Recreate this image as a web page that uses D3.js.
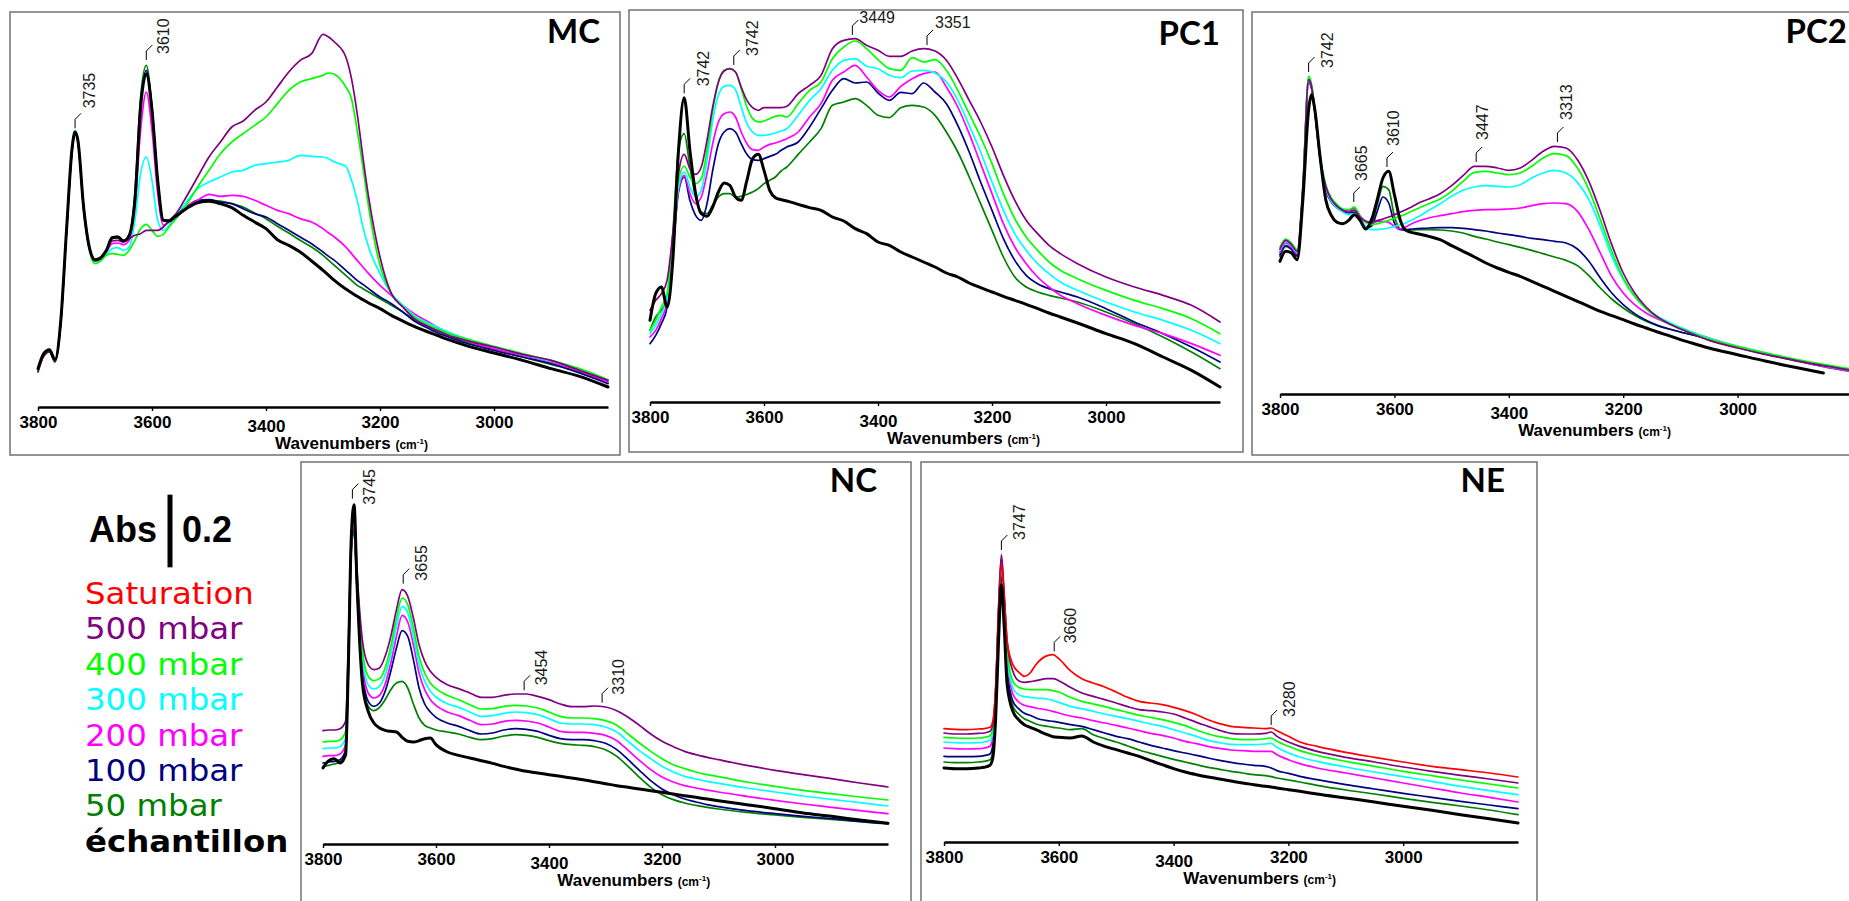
<!DOCTYPE html>
<html><head><meta charset="utf-8">
<script src="https://cdn.jsdelivr.net/npm/d3@7/dist/d3.min.js"></script>
<style>html,body{margin:0;padding:0;background:#fff;}svg{display:block;}</style>
</head><body>
<svg id="chart" width="1849" height="901"></svg>
<script>
// ---------------- DATA ----------------
const seriesNames = ["Saturation","500 mbar","400 mbar","300 mbar","200 mbar","100 mbar","50 mbar","échantillon"];
const xTickValues = [3800,3600,3400,3200,3000];
const scaleBarAbs = 0.2;

// MC
const mcWavenumbers = [3800,3790,3780,3770,3760,3750,3740,3735,3730,3720,3710,3700,3690,3680,3670,3660,3650,3640,3630,3620,3610,3600,3590,3580,3570,3560,3540,3520,3500,3480,3460,3440,3420,3400,3380,3360,3340,3320,3300,3290,3280,3260,3250,3240,3230,3220,3200,3180,3160,3140,3120,3100,3080,3050,3000,2950,2900,2850,2800];
const mc500 = [0.105,0.152,0.165,0.135,0.252,0.522,0.772,0.820,0.796,0.596,0.476,0.438,0.445,0.470,0.498,0.500,0.495,0.505,0.515,0.520,0.530,0.530,0.530,0.540,0.560,0.575,0.630,0.690,0.750,0.795,0.840,0.858,0.890,0.915,0.960,1.005,1.040,1.060,1.118,1.110,1.095,1.050,0.985,0.880,0.750,0.630,0.450,0.340,0.300,0.265,0.245,0.230,0.215,0.200,0.180,0.158,0.140,0.110,0.080];
const mc400 = [0.106,0.153,0.165,0.135,0.253,0.523,0.773,0.822,0.795,0.592,0.470,0.430,0.438,0.455,0.460,0.458,0.455,0.470,0.500,0.535,0.548,0.530,0.512,0.518,0.540,0.560,0.605,0.660,0.710,0.760,0.795,0.820,0.845,0.870,0.910,0.950,0.975,0.985,0.995,1.002,0.998,0.960,0.925,0.830,0.720,0.600,0.425,0.340,0.300,0.270,0.250,0.235,0.220,0.205,0.182,0.160,0.140,0.115,0.082];
const mc300 = [0.108,0.155,0.167,0.137,0.255,0.525,0.775,0.830,0.800,0.598,0.476,0.436,0.443,0.458,0.475,0.478,0.470,0.480,0.560,0.700,0.750,0.680,0.560,0.530,0.545,0.570,0.615,0.655,0.675,0.690,0.705,0.710,0.725,0.730,0.735,0.740,0.755,0.752,0.750,0.745,0.735,0.722,0.680,0.620,0.540,0.480,0.400,0.340,0.305,0.275,0.255,0.240,0.225,0.205,0.180,0.158,0.138,0.112,0.080];
const mc200 = [0.110,0.157,0.169,0.139,0.257,0.527,0.777,0.825,0.800,0.600,0.478,0.440,0.447,0.465,0.490,0.492,0.487,0.500,0.600,0.830,0.945,0.830,0.640,0.545,0.555,0.570,0.600,0.620,0.638,0.632,0.635,0.632,0.620,0.605,0.590,0.580,0.565,0.555,0.535,0.522,0.510,0.480,0.460,0.440,0.420,0.400,0.365,0.335,0.305,0.280,0.260,0.240,0.222,0.200,0.175,0.155,0.135,0.108,0.075];
const mc100 = [0.112,0.158,0.170,0.140,0.258,0.528,0.778,0.825,0.800,0.600,0.478,0.440,0.447,0.470,0.505,0.508,0.497,0.515,0.630,0.910,1.010,0.895,0.680,0.560,0.560,0.575,0.600,0.620,0.622,0.615,0.610,0.595,0.580,0.570,0.550,0.530,0.510,0.490,0.465,0.452,0.440,0.410,0.395,0.380,0.368,0.355,0.330,0.310,0.285,0.258,0.240,0.223,0.210,0.192,0.170,0.150,0.130,0.102,0.070];
const mc50 = [0.110,0.158,0.170,0.140,0.258,0.528,0.778,0.825,0.800,0.600,0.478,0.438,0.445,0.470,0.510,0.512,0.500,0.515,0.640,0.930,1.025,0.900,0.680,0.560,0.560,0.572,0.597,0.615,0.620,0.618,0.610,0.600,0.582,0.565,0.542,0.522,0.500,0.480,0.455,0.440,0.425,0.395,0.380,0.365,0.355,0.345,0.325,0.305,0.285,0.262,0.245,0.228,0.213,0.195,0.172,0.150,0.128,0.105,0.072];
const mcSample = [0.115,0.160,0.172,0.142,0.260,0.530,0.780,0.825,0.800,0.600,0.480,0.442,0.448,0.470,0.508,0.510,0.498,0.515,0.620,0.900,1.000,0.890,0.680,0.560,0.558,0.570,0.595,0.613,0.617,0.610,0.598,0.575,0.555,0.535,0.502,0.485,0.465,0.438,0.410,0.395,0.380,0.354,0.343,0.332,0.322,0.312,0.295,0.275,0.258,0.242,0.228,0.215,0.202,0.185,0.162,0.140,0.115,0.092,0.060];
const mcPeakLabels = ["3735","3610"];
const mcPeakWavenumbers = [3735,3610];
const mcPeakAbs = [0.83,1.035];

// PC1
const pc1Wavenumbers = [3800,3790,3780,3770,3760,3750,3740,3730,3720,3710,3700,3690,3680,3670,3660,3650,3640,3630,3620,3610,3600,3590,3580,3570,3560,3540,3520,3500,3480,3460,3440,3420,3400,3380,3360,3340,3320,3300,3280,3260,3240,3220,3200,3180,3160,3140,3120,3100,3080,3050,3000,2950,2900,2850,2800];
const pc1500 = [0.275,0.305,0.325,0.365,0.505,0.685,0.743,0.700,0.683,0.705,0.785,0.885,0.960,0.993,1.000,0.990,0.945,0.905,0.883,0.875,0.883,0.883,0.883,0.883,0.887,0.925,0.950,0.980,1.060,1.085,1.090,1.070,1.055,1.037,1.037,1.053,1.060,1.053,1.025,0.970,0.905,0.840,0.765,0.680,0.605,0.545,0.505,0.470,0.445,0.415,0.375,0.345,0.320,0.290,0.240];
const pc1400 = [0.215,0.245,0.285,0.325,0.485,0.665,0.708,0.675,0.655,0.670,0.755,0.875,0.960,0.995,1.000,0.990,0.940,0.885,0.850,0.840,0.843,0.850,0.857,0.860,0.855,0.895,0.935,0.960,1.030,1.065,1.083,1.060,1.027,1.000,0.995,1.033,1.020,1.027,0.995,0.935,0.865,0.795,0.715,0.625,0.550,0.495,0.455,0.420,0.395,0.370,0.335,0.305,0.280,0.250,0.205];
const pc1300 = [0.205,0.230,0.265,0.310,0.465,0.645,0.690,0.645,0.615,0.635,0.725,0.845,0.920,0.947,0.950,0.937,0.885,0.835,0.810,0.800,0.800,0.803,0.807,0.813,0.820,0.860,0.905,0.940,0.995,1.025,1.030,1.007,1.000,0.980,0.973,0.993,0.995,0.987,0.960,0.905,0.830,0.750,0.660,0.575,0.505,0.455,0.415,0.385,0.360,0.335,0.300,0.270,0.245,0.215,0.175];
const pc1200 = [0.195,0.215,0.250,0.300,0.455,0.635,0.680,0.625,0.595,0.615,0.685,0.775,0.840,0.865,0.870,0.855,0.810,0.775,0.757,0.755,0.765,0.773,0.777,0.783,0.790,0.810,0.855,0.895,0.965,0.990,1.010,0.975,0.935,0.915,0.947,0.970,0.985,0.990,0.945,0.885,0.805,0.715,0.625,0.535,0.465,0.415,0.375,0.345,0.320,0.295,0.260,0.230,0.205,0.175,0.140];
const pc1100 = [0.175,0.200,0.235,0.285,0.445,0.630,0.675,0.605,0.560,0.545,0.595,0.695,0.775,0.810,0.820,0.810,0.775,0.743,0.727,0.725,0.730,0.737,0.743,0.755,0.765,0.780,0.825,0.880,0.935,0.970,0.957,0.960,0.927,0.905,0.929,0.925,0.957,0.930,0.895,0.830,0.750,0.660,0.575,0.490,0.425,0.380,0.355,0.340,0.330,0.315,0.280,0.240,0.205,0.165,0.120];
const pc150 = [0.215,0.255,0.275,0.305,0.505,0.755,0.805,0.705,0.615,0.570,0.565,0.590,0.615,0.625,0.625,0.615,0.617,0.623,0.630,0.640,0.655,0.665,0.675,0.693,0.705,0.743,0.780,0.820,0.890,0.900,0.910,0.890,0.860,0.853,0.883,0.890,0.885,0.860,0.810,0.750,0.675,0.595,0.515,0.435,0.375,0.345,0.330,0.320,0.312,0.300,0.270,0.235,0.195,0.150,0.100];
const pc1Sample = [0.245,0.325,0.345,0.285,0.425,0.755,0.913,0.755,0.625,0.565,0.557,0.585,0.630,0.657,0.650,0.615,0.605,0.665,0.730,0.743,0.695,0.635,0.613,0.607,0.603,0.593,0.583,0.575,0.555,0.543,0.520,0.505,0.480,0.470,0.450,0.435,0.420,0.405,0.387,0.375,0.357,0.343,0.330,0.317,0.305,0.293,0.280,0.267,0.255,0.237,0.205,0.175,0.135,0.095,0.045];
const pc1PeakLabels = ["3742","3742","3449","3351"];
const pc1PeakWavenumbers = [3740,3653,3445,3314];
const pc1PeakAbs = [0.92,1.005,1.095,1.065];

// PC2
const pc2Wavenumbers = [3800,3790,3780,3770,3760,3750,3745,3740,3730,3720,3710,3700,3690,3680,3670,3660,3650,3640,3630,3620,3610,3600,3590,3580,3570,3560,3540,3520,3500,3480,3460,3440,3420,3400,3380,3360,3340,3320,3300,3280,3260,3240,3220,3200,3180,3160,3140,3120,3100,3080,3050,3000,2950,2900,2850,2800];
const pc2500 = [0.435,0.461,0.448,0.428,0.623,0.943,0.923,0.863,0.713,0.623,0.583,0.563,0.551,0.545,0.551,0.531,0.518,0.515,0.520,0.525,0.531,0.538,0.545,0.553,0.561,0.571,0.585,0.601,0.625,0.655,0.683,0.683,0.678,0.671,0.678,0.701,0.728,0.743,0.738,0.703,0.638,0.548,0.448,0.363,0.303,0.261,0.231,0.211,0.195,0.181,0.161,0.138,0.118,0.101,0.085,0.071];
const pc2400 = [0.441,0.465,0.453,0.433,0.628,0.953,0.931,0.868,0.718,0.628,0.588,0.568,0.555,0.553,0.561,0.533,0.515,0.508,0.511,0.516,0.521,0.527,0.533,0.540,0.548,0.556,0.571,0.585,0.608,0.638,0.665,0.668,0.663,0.658,0.663,0.683,0.708,0.721,0.715,0.678,0.613,0.523,0.428,0.348,0.293,0.255,0.228,0.211,0.197,0.183,0.165,0.143,0.123,0.105,0.089,0.075];
const pc2300 = [0.431,0.458,0.445,0.425,0.618,0.945,0.925,0.863,0.711,0.618,0.578,0.558,0.545,0.538,0.541,0.523,0.503,0.493,0.493,0.495,0.498,0.503,0.507,0.513,0.521,0.530,0.551,0.571,0.593,0.611,0.621,0.625,0.623,0.621,0.628,0.648,0.663,0.671,0.663,0.635,0.583,0.503,0.413,0.343,0.293,0.258,0.233,0.215,0.200,0.186,0.168,0.143,0.123,0.103,0.085,0.071];
const pc2200 = [0.425,0.453,0.441,0.421,0.613,0.938,0.921,0.861,0.708,0.615,0.578,0.561,0.551,0.549,0.551,0.533,0.518,0.515,0.518,0.518,0.515,0.503,0.495,0.501,0.511,0.518,0.528,0.535,0.541,0.547,0.551,0.553,0.553,0.555,0.558,0.565,0.571,0.573,0.571,0.548,0.493,0.423,0.353,0.303,0.268,0.243,0.225,0.211,0.198,0.185,0.168,0.141,0.121,0.101,0.083,0.068];
const pc2100 = [0.418,0.445,0.435,0.415,0.608,0.935,0.918,0.858,0.705,0.611,0.575,0.558,0.548,0.543,0.545,0.525,0.498,0.503,0.548,0.591,0.573,0.513,0.493,0.493,0.495,0.496,0.498,0.499,0.499,0.497,0.493,0.489,0.483,0.478,0.473,0.467,0.463,0.458,0.453,0.435,0.398,0.348,0.303,0.268,0.241,0.221,0.206,0.195,0.186,0.178,0.165,0.141,0.121,0.103,0.085,0.071];
const pc250 = [0.413,0.443,0.433,0.413,0.611,0.943,0.925,0.863,0.708,0.613,0.578,0.561,0.551,0.551,0.558,0.533,0.501,0.511,0.568,0.623,0.613,0.533,0.495,0.491,0.492,0.493,0.493,0.492,0.489,0.483,0.473,0.465,0.456,0.448,0.440,0.431,0.421,0.411,0.401,0.385,0.355,0.318,0.285,0.258,0.236,0.218,0.205,0.195,0.186,0.178,0.165,0.140,0.119,0.100,0.082,0.067];
const pc2Sample = [0.398,0.428,0.423,0.403,0.583,0.853,0.898,0.863,0.713,0.583,0.535,0.515,0.511,0.521,0.538,0.521,0.495,0.523,0.583,0.648,0.668,0.598,0.523,0.491,0.485,0.481,0.473,0.463,0.445,0.428,0.411,0.393,0.378,0.365,0.353,0.338,0.323,0.308,0.293,0.278,0.263,0.248,0.235,0.223,0.210,0.198,0.186,0.175,0.163,0.153,0.138,0.118,0.098,0.080,0.063,null];
const pc2PeakLabels = ["3742","3665","3610","3447","3313"];
const pc2PeakWavenumbers = [3750,3671,3613,3457,3315];
const pc2PeakAbs = [0.96,0.57,0.675,0.69,0.75];

// NC
const ncWavenumbers = [3800,3790,3780,3770,3760,3755,3750,3745,3740,3730,3720,3710,3700,3690,3680,3670,3660,3650,3640,3630,3620,3610,3600,3580,3560,3540,3520,3500,3480,3460,3440,3420,3400,3380,3360,3340,3320,3300,3280,3260,3240,3220,3200,3180,3160,3140,3120,3100,3050,3000,2950,2900,2850,2800];
const nc500 = [0.340,0.342,0.342,0.346,0.368,0.608,0.918,1.003,0.828,0.608,0.538,0.523,0.528,0.563,0.623,0.703,0.763,0.743,0.678,0.598,0.548,0.518,0.500,0.478,0.466,0.453,0.440,0.440,0.446,0.450,0.450,0.443,0.433,0.420,0.412,0.412,0.414,0.411,0.400,0.380,0.356,0.330,0.308,0.292,0.278,0.268,0.260,0.253,0.236,0.221,0.208,0.196,0.183,0.171];
const nc400 = [0.306,0.308,0.308,0.312,0.338,0.588,0.913,0.983,0.818,0.578,0.503,0.490,0.496,0.528,0.593,0.678,0.738,0.718,0.648,0.563,0.513,0.483,0.466,0.446,0.433,0.418,0.405,0.406,0.413,0.416,0.414,0.408,0.396,0.383,0.378,0.378,0.376,0.370,0.356,0.330,0.303,0.278,0.256,0.238,0.226,0.216,0.208,0.202,0.186,0.173,0.161,0.151,0.141,0.132];
const nc300 = [0.286,0.288,0.288,0.292,0.318,0.568,0.903,0.968,0.808,0.558,0.478,0.465,0.473,0.506,0.570,0.653,0.713,0.693,0.623,0.538,0.488,0.458,0.441,0.421,0.410,0.396,0.383,0.385,0.392,0.396,0.394,0.388,0.376,0.363,0.360,0.360,0.358,0.351,0.336,0.308,0.280,0.256,0.233,0.216,0.203,0.195,0.188,0.182,0.168,0.156,0.144,0.134,0.124,0.114];
const nc200 = [0.263,0.265,0.265,0.270,0.298,0.548,0.893,0.958,0.798,0.538,0.453,0.438,0.446,0.480,0.543,0.623,0.686,0.666,0.598,0.513,0.463,0.433,0.416,0.396,0.385,0.371,0.358,0.360,0.368,0.371,0.369,0.363,0.351,0.338,0.335,0.335,0.332,0.326,0.310,0.281,0.251,0.223,0.201,0.186,0.175,0.168,0.162,0.156,0.143,0.131,0.120,0.110,0.100,0.091];
const nc100 = [0.243,0.246,0.248,0.253,0.283,0.528,0.883,0.948,0.778,0.508,0.428,0.413,0.423,0.458,0.518,0.588,0.640,0.623,0.553,0.468,0.420,0.396,0.380,0.363,0.353,0.340,0.330,0.333,0.342,0.346,0.344,0.338,0.326,0.316,0.313,0.313,0.310,0.302,0.283,0.253,0.221,0.190,0.165,0.148,0.135,0.126,0.118,0.112,0.100,0.091,0.083,0.076,0.068,0.062];
const nc50 = [0.233,0.236,0.240,0.246,0.278,0.518,0.878,0.933,0.768,0.488,0.413,0.400,0.410,0.433,0.463,0.483,0.488,0.468,0.420,0.378,0.356,0.348,0.342,0.336,0.330,0.320,0.313,0.316,0.324,0.328,0.326,0.320,0.310,0.302,0.298,0.296,0.292,0.283,0.263,0.233,0.200,0.170,0.148,0.133,0.123,0.116,0.110,0.105,0.095,0.087,0.080,0.074,0.067,0.060];
const ncSample = [0.228,0.250,0.256,0.243,0.268,0.548,0.918,1.018,0.788,0.478,0.398,0.363,0.348,0.341,0.338,0.336,0.320,0.308,0.306,0.310,0.316,0.318,0.298,0.276,0.266,0.258,0.250,0.242,0.233,0.225,0.218,0.213,0.208,0.203,0.198,0.193,0.187,0.181,0.175,0.170,0.165,0.160,0.155,0.150,0.145,0.140,0.135,0.130,0.118,0.106,0.093,0.083,0.072,0.062];
const ncPeakLabels = ["3745","3655","3454","3310"];
const ncPeakWavenumbers = [3748,3658,3444,3306];
const ncPeakAbs = [1.03,0.775,0.455,0.418];

// NE
const neWavenumbers = [3800,3780,3760,3740,3730,3720,3715,3710,3705,3700,3695,3690,3680,3670,3660,3650,3640,3620,3610,3600,3580,3560,3540,3520,3500,3480,3460,3440,3420,3400,3380,3360,3340,3320,3300,3280,3260,3240,3230,3220,3200,3180,3150,3100,3050,3000,2950,2900,2850,2800];
const neSat = [0.340,0.338,0.337,0.339,0.340,0.344,0.362,0.462,0.682,0.832,0.732,0.602,0.532,0.510,0.497,0.507,0.532,0.559,0.562,0.550,0.514,0.490,0.477,0.465,0.450,0.434,0.422,0.417,0.412,0.404,0.394,0.382,0.367,0.355,0.347,0.344,0.342,0.340,0.342,0.334,0.317,0.300,0.287,0.269,0.254,0.240,0.227,0.217,0.207,0.195];
const ne500 = [0.327,0.324,0.324,0.326,0.327,0.332,0.352,0.462,0.702,0.862,0.742,0.602,0.512,0.484,0.479,0.481,0.484,0.490,0.490,0.484,0.464,0.447,0.437,0.427,0.417,0.406,0.397,0.394,0.390,0.384,0.372,0.359,0.347,0.335,0.326,0.324,0.324,0.326,0.330,0.317,0.300,0.287,0.272,0.254,0.240,0.225,0.212,0.200,0.189,0.177];
const ne400 = [0.314,0.312,0.311,0.312,0.314,0.319,0.340,0.452,0.687,0.842,0.722,0.577,0.482,0.464,0.459,0.457,0.457,0.457,0.454,0.450,0.434,0.422,0.414,0.406,0.397,0.389,0.380,0.374,0.367,0.359,0.349,0.336,0.324,0.316,0.310,0.307,0.307,0.310,0.312,0.302,0.287,0.274,0.260,0.242,0.227,0.212,0.199,0.186,0.174,0.162];
const ne300 = [0.300,0.298,0.297,0.298,0.300,0.305,0.327,0.442,0.672,0.827,0.707,0.562,0.462,0.442,0.436,0.434,0.432,0.429,0.424,0.419,0.407,0.400,0.392,0.384,0.377,0.370,0.362,0.354,0.347,0.337,0.327,0.317,0.305,0.298,0.293,0.292,0.292,0.294,0.296,0.284,0.267,0.255,0.242,0.225,0.210,0.196,0.182,0.167,0.154,0.142];
const ne200 = [0.282,0.280,0.279,0.280,0.282,0.287,0.312,0.442,0.692,0.852,0.722,0.552,0.444,0.420,0.410,0.406,0.402,0.396,0.392,0.387,0.378,0.372,0.364,0.357,0.350,0.342,0.334,0.326,0.320,0.312,0.302,0.295,0.287,0.281,0.276,0.274,0.272,0.272,0.272,0.262,0.247,0.235,0.222,0.207,0.192,0.177,0.162,0.147,0.134,0.120];
const ne100 = [0.257,0.256,0.256,0.257,0.259,0.264,0.290,0.422,0.662,0.812,0.692,0.522,0.422,0.400,0.386,0.380,0.372,0.364,0.362,0.359,0.352,0.347,0.337,0.327,0.317,0.310,0.300,0.290,0.282,0.274,0.267,0.260,0.252,0.245,0.239,0.234,0.230,0.227,0.222,0.214,0.206,0.197,0.187,0.172,0.159,0.146,0.134,0.122,0.111,0.100];
const ne50 = [0.240,0.238,0.238,0.240,0.242,0.247,0.272,0.402,0.642,0.792,0.672,0.502,0.407,0.384,0.370,0.362,0.354,0.347,0.344,0.342,0.337,0.340,0.322,0.310,0.300,0.288,0.276,0.266,0.257,0.248,0.240,0.232,0.224,0.218,0.212,0.207,0.202,0.199,0.196,0.192,0.186,0.180,0.170,0.156,0.144,0.131,0.119,0.108,0.096,0.082];
const neSample = [0.222,0.220,0.220,0.222,0.224,0.230,0.252,0.372,0.602,0.772,0.642,0.472,0.392,0.367,0.352,0.344,0.337,0.322,0.316,0.314,0.312,0.318,0.300,0.287,0.277,0.267,0.257,0.244,0.232,0.220,0.210,0.202,0.195,0.189,0.183,0.177,0.172,0.167,0.165,0.162,0.157,0.152,0.144,0.132,0.120,0.107,0.095,0.082,0.070,0.057];
const nePeakLabels = ["3747","3660","3280"];
const nePeakWavenumbers = [3700,3608,3230];
const nePeakAbs = [0.87,0.566,0.345];

// ---------------- STYLE / LAYOUT ----------------
const colorOf = {"Saturation":"#ff0000","500 mbar":"#800080","400 mbar":"#00ff00","300 mbar":"#00ffff",
  "200 mbar":"#ff00ff","100 mbar":"#000080","50 mbar":"#008000","échantillon":"#000000"};
const drawOrder = ["50 mbar","100 mbar","200 mbar","300 mbar","400 mbar","500 mbar","Saturation","échantillon"];
const FONT = "'Liberation Sans', Arial, sans-serif";
const pxPerAbs = 1000/3;

const panels = [
  {title:"MC", wn:mcWavenumbers, series:{"500 mbar":mc500,"400 mbar":mc400,"300 mbar":mc300,"200 mbar":mc200,"100 mbar":mc100,"50 mbar":mc50,"échantillon":mcSample},
   peaks:[mcPeakLabels,mcPeakWavenumbers,mcPeakAbs], lblDx:[20,23], lblDy:[-22,-8], lblH:[0,0],
   box:[10,12,620,455], axisY:407, xr:[38,608], tx:600, ty:43, ta:"end"},
  {title:"PC1", wn:pc1Wavenumbers, series:{"500 mbar":pc1500,"400 mbar":pc1400,"300 mbar":pc1300,"200 mbar":pc1200,"100 mbar":pc1100,"50 mbar":pc150,"échantillon":pc1Sample},
   peaks:[pc1PeakLabels,pc1PeakWavenumbers,pc1PeakAbs], lblDx:[25,24,7,8], lblDy:[-9,-11,-14,-19], lblH:[0,0,1,1],
   box:[629,10,1243,452], axisY:402, xr:[650,1220], tx:1220, ty:45, ta:"end"},
  {title:"PC2", wn:pc2Wavenumbers, series:{"500 mbar":pc2500,"400 mbar":pc2400,"300 mbar":pc2300,"200 mbar":pc2200,"100 mbar":pc2100,"50 mbar":pc250,"échantillon":pc2Sample},
   peaks:[pc2PeakLabels,pc2PeakWavenumbers,pc2PeakAbs], lblDx:[24,13,12,12,15], lblDy:[-6,-23,-23,-24,-24], lblH:[0,0,0,0,0],
   box:[1252,12,1900,455], axisY:394, xr:[1280,1852], tx:1847, ty:43, ta:"end"},
  {title:"NC", wn:ncWavenumbers, series:{"500 mbar":nc500,"400 mbar":nc400,"300 mbar":nc300,"200 mbar":nc200,"100 mbar":nc100,"50 mbar":nc50,"échantillon":ncSample},
   peaks:[ncPeakLabels,ncPeakWavenumbers,ncPeakAbs], lblDx:[23,24,23,22], lblDy:[4,-5,-7,-10], lblH:[0,0,0,0],
   box:[301,462,911,920], axisY:844, xr:[323,888], tx:877, ty:492, ta:"end"},
  {title:"NE", wn:neWavenumbers, series:{"Saturation":neSat,"500 mbar":ne500,"400 mbar":ne400,"300 mbar":ne300,"200 mbar":ne200,"100 mbar":ne100,"50 mbar":ne50,"échantillon":neSample},
   peaks:[nePeakLabels,nePeakWavenumbers,nePeakAbs], lblDx:[24,22,24], lblDy:[-12,-10,-10], lblH:[0,0,0],
   box:[921,462,1537,920], axisY:842, xr:[944,1518], tx:1505, ty:492, ta:"end"}
];

const svg = d3.select("#chart");
svg.append("rect").attr("width",1849).attr("height",901).attr("fill","#fff");

panels.forEach(p => {
  const g = svg.append("g");
  g.append("rect").attr("x",p.box[0]).attr("y",p.box[1])
    .attr("width",p.box[2]-p.box[0]).attr("height",p.box[3]-p.box[1])
    .attr("fill","none").attr("stroke","#7a7a7a").attr("stroke-width",1.6);

  const x = d3.scaleLinear().domain([3800,2800]).range(p.xr);
  const y = d3.scaleLinear().domain([0,1]).range([p.axisY, p.axisY - pxPerAbs]);
  const line = d3.line().defined(d => d[1] != null).x(d => x(d[0])).y(d => y(d[1])).curve(d3.curveMonotoneX);

  drawOrder.forEach(name => {
    const vals = p.series[name];
    if (!vals) return;
    const pts = p.wn.map((w,i) => [w, vals[i]]);
    g.append("path").datum(pts).attr("d", line).attr("fill","none")
      .attr("stroke", colorOf[name]).attr("stroke-width", name === "échantillon" ? 3 : 1.7)
      .attr("stroke-linejoin","round").attr("stroke-linecap","round");
  });

  const axis = d3.axisBottom(x).tickValues(xTickValues).tickSize(4).tickSizeOuter(0).tickPadding(5).tickFormat(d3.format("d"));
  const ag = g.append("g").attr("transform",`translate(0,${p.axisY})`).call(axis);
  ag.select(".domain").attr("stroke","#000").attr("stroke-width",2.6);
  ag.selectAll(".tick line").attr("stroke","#000").attr("stroke-width",1.4);
  ag.selectAll(".tick text").attr("font-family",FONT).attr("font-weight","bold").attr("font-size",17).attr("fill","#000");
  ag.selectAll(".tick text").filter(d => d === 3400).attr("dy","0.92em");

  const lab = g.append("text").attr("x", x(3250)).attr("y", p.axisY + 42).attr("text-anchor","middle")
    .attr("font-family",FONT).attr("font-weight","bold").attr("fill","#000");
  lab.append("tspan").attr("font-size",17).text("Wavenumbers ");
  lab.append("tspan").attr("font-size",12).text("(cm");
  lab.append("tspan").attr("font-size",8).attr("dy",-5).text("-1");
  lab.append("tspan").attr("font-size",12).attr("dy",5).text(")");

  g.append("text").attr("x",p.tx).attr("y",p.ty).attr("text-anchor",p.ta)
    .attr("font-family","Lato, 'Open Sans', sans-serif").attr("font-weight",700).attr("font-size",33)
    .attr("fill","#000").text(p.title);

  const [labels, wns, abs] = p.peaks;
  labels.forEach((t,i) => {
    const px = x(wns[i]), py = y(abs[i]);
    g.append("path").attr("d",`M${px},${py-2}V${py-11}L${px+6},${py-17}`)
      .attr("fill","none").attr("stroke","#000").attr("stroke-width",1);
    const tx = g.append("text").attr("font-family",FONT).attr("font-size",16).attr("fill","#1a1a1a").text(t);
    if (p.lblH[i]) {
      tx.attr("x", px + p.lblDx[i]).attr("y", py + p.lblDy[i]);
    } else {
      tx.attr("transform",`translate(${px + p.lblDx[i]},${py + p.lblDy[i]}) rotate(-90)`);
    }
  });
});

// Legend
const lg = svg.append("g");
const yBar = d3.scaleLinear().domain([0,1]).range([0,pxPerAbs]);
const barMid = 531;
lg.append("text").attr("x",89).attr("y",542).attr("font-family",FONT).attr("font-weight","bold").attr("font-size",36).text("Abs");
lg.append("line").attr("x1",170).attr("x2",170).attr("y1",barMid - yBar(scaleBarAbs)/2 - 3).attr("y2",barMid + yBar(scaleBarAbs)/2 + 3)
  .attr("stroke","#000").attr("stroke-width",5);
lg.append("text").attr("x",182).attr("y",542).attr("font-family",FONT).attr("font-weight","bold").attr("font-size",36).text(scaleBarAbs);
seriesNames.forEach((n,i) => {
  lg.append("text").attr("transform",`translate(85,${604 + i*35.4}) scale(1.08,1)`)
    .attr("font-family","'DejaVu Sans', sans-serif")
    .attr("font-weight", n === "échantillon" ? "bold" : "normal").attr("font-size",30)
    .attr("fill",colorOf[n]).text(n);
});
</script>
</body></html>
